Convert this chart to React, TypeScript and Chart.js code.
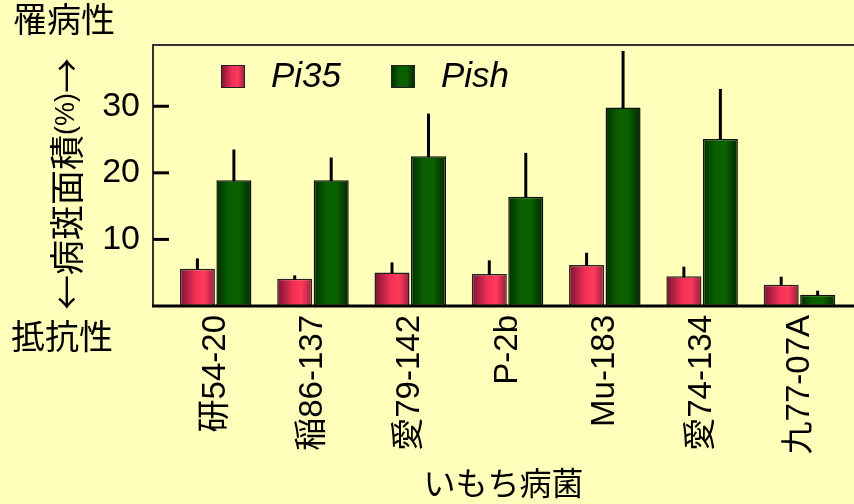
import React, { useEffect, useRef } from 'react';
import { Chart, registerables } from 'chart.js';

Chart.register(...registerables);

// ---- data ----
const categories = ['研54-20', '稲86-137', '愛79-142', 'P-2b', 'Mu-183', '愛74-134', '九77-07A'];
const seriesNames = ['Pi35', 'Pish'];
const pi35 = [5.6, 4.1, 5.05, 4.8, 6.15, 4.45, 3.2];
const pi35Err = [1.55, 0.5, 1.5, 2.05, 1.85, 1.45, 1.2];
const pish = [18.9, 18.9, 22.5, 16.4, 29.8, 25.1, 1.7];
const pishErr = [4.6, 3.4, 6.4, 6.6, 8.5, 7.5, 0.6];
const yTicks = [10, 20, 30];
const xTitle = 'いもち病菌';
const yTitleParts = ['←病斑面積', '(%)', '→'];
const topNote = '罹病性';
const bottomNote = '抵抗性';

// ---- styles ----
const BG = '#FFFFBB';
const FONT = '"Liberation Sans", Arial, "Noto Sans CJK JP", sans-serif';
const CJK = '"Noto Sans CJK JP", sans-serif';
const redStops: [number, string][] = [[0, '#7a1232'], [0.45, '#f03055'], [0.7, '#ff3a5c'], [1, '#9a1c3e']];
const greenStops: [number, string][] = [[0, '#002e00'], [0.35, '#0a5f00'], [0.65, '#0b6000'], [1, '#002800']];
const seriesStops = [redStops, greenStops];
const seriesErr = [pi35Err, pishErr];

function makeGrad(c: CanvasRenderingContext2D, x0: number, x1: number, stops: [number, string][]) {
  const g = c.createLinearGradient(x0, 0, x1, 0);
  stops.forEach(([o, col]) => g.addColorStop(o, col));
  return g;
}

export default function App() {
  const ref = useRef<HTMLCanvasElement>(null);

  useEffect(() => {
    const canvas = ref.current!;

    const bgPlugin = {
      id: 'bg',
      beforeDraw(chart: any) {
        const c = chart.ctx;
        c.save();
        c.fillStyle = BG;
        c.fillRect(0, 0, chart.width, chart.height);
        c.restore();
      },
    };

    const gradPlugin = {
      id: 'grad',
      beforeDatasetsDraw(chart: any) {
        chart.data.datasets.forEach((_ds: any, di: number) => {
          const meta = chart.getDatasetMeta(di);
          meta.data.forEach((el: any) => {
            const { x, width } = el.getProps(['x', 'width'], true);
            el.options = {
              ...el.options,
              backgroundColor: makeGrad(chart.ctx, x - width / 2, x + width / 2, seriesStops[di]),
            };
          });
        });
      },
    };

    const decoPlugin = {
      id: 'deco',
      afterDatasetsDraw(chart: any) {
        const c: CanvasRenderingContext2D = chart.ctx;
        const ys = chart.scales.y;
        const { left, top, bottom } = chart.chartArea;
        c.save();
        // error bars (upper only)
        c.strokeStyle = '#000';
        c.lineWidth = 3;
        chart.data.datasets.forEach((ds: any, di: number) => {
          const meta = chart.getDatasetMeta(di);
          meta.data.forEach((el: any, i: number) => {
            const v = ds.data[i].y;
            const yTop = ys.getPixelForValue(v + seriesErr[di][i]);
            c.beginPath();
            c.moveTo(el.x, el.y + 1);
            c.lineTo(el.x, yTop);
            c.stroke();
          });
        });
        // frame
        c.strokeStyle = '#333';
        c.lineWidth = 2;
        c.beginPath();
        c.moveTo(left, bottom);
        c.lineTo(left, top);
        c.lineTo(chart.width, top);
        c.stroke();
        c.strokeStyle = '#000';
        c.lineWidth = 3;
        c.beginPath();
        c.moveTo(left - 1, bottom);
        c.lineTo(chart.width, bottom);
        c.stroke();
        // inward ticks
        c.lineWidth = 3;
        yTicks.forEach((t) => {
          const y = ys.getPixelForValue(t);
          c.beginPath();
          c.moveTo(left, y);
          c.lineTo(left + 16, y);
          c.stroke();
        });
        c.restore();
      },
      afterDraw(chart: any) {
        const c: CanvasRenderingContext2D = chart.ctx;
        c.save();
        c.fillStyle = '#000';
        c.textBaseline = 'middle';
        c.textAlign = 'left';
        c.font = `34px ${FONT}`;
        c.fillText(topNote, 13, 23);
        c.fillText(bottomNote, 11, 340);

        // y title, rotated
        const fonts = [`35px ${CJK}`, `27px ${FONT}`, `35px ${CJK}`];
        let total = 0;
        const widths = yTitleParts.map((t, i) => {
          c.font = fonts[i];
          const w = c.measureText(t).width;
          total += w;
          return w;
        });
        c.translate(67, 184);
        c.rotate(-Math.PI / 2);
        let x = -total / 2;
        yTitleParts.forEach((t, i) => {
          c.font = fonts[i];
          c.fillText(t, x, 0);
          x += widths[i];
        });
        c.setTransform(1, 0, 0, 1, 0, 0);

        // legend
        const boxX = [221, 391];
        seriesNames.forEach((name, i) => {
          const bx = boxX[i];
          c.fillStyle = makeGrad(c, bx, bx + 24, seriesStops[i]);
          c.fillRect(bx, 65, 24, 23);
          c.strokeStyle = '#222';
          c.lineWidth = 1;
          c.strokeRect(bx + 0.5, 65.5, 23, 22);
          c.fillStyle = '#000';
          c.font = `italic 35px ${FONT}`;
          c.fillText(name, bx + 50, 77);
        });
        c.restore();
      },
    };

    const chart = new Chart(canvas, {
      type: 'bar',
      data: {
        datasets: [
          {
            label: seriesNames[0],
            data: pi35.map((y, i) => ({ x: i, y })),
            backgroundColor: '#ff3a5c',
            borderColor: '#222',
            borderWidth: 1.5,
            borderSkipped: false,
          },
          {
            label: seriesNames[1],
            data: pish.map((y, i) => ({ x: i, y })),
            backgroundColor: '#0b6000',
            borderColor: '#111',
            borderWidth: 1.5,
            borderSkipped: false,
          },
        ],
      },
      options: {
        animation: false,
        responsive: false,
        devicePixelRatio: 1,
        layout: { padding: { top: 45, left: 0, right: 0, bottom: 0 } },
        categoryPercentage: 0.75,
        barPercentage: 0.96,
        plugins: { legend: { display: false }, tooltip: { enabled: false } },
        scales: {
          x: {
            type: 'linear',
            offset: false,
            min: -0.644,
            max: 6.561,
            grid: { display: false, drawTicks: false, offset: false },
            border: { display: false },
            afterBuildTicks: (s: any) => {
              s.ticks = categories.map((_, i) => ({ value: i }));
            },
            afterFit: (s: any) => {
              s.height = 198;
            },
            ticks: {
              autoSkip: false,
              minRotation: 90,
              maxRotation: 90,
              padding: 9,
              color: '#000',
              font: { family: FONT, size: 33 },
              callback: (v: any) => categories[v] ?? '',
            },
            title: {
              display: true,
              text: xTitle,
              color: '#000',
              font: { family: FONT, size: 32, lineHeight: 1 },
              padding: { top: 0, bottom: 2 },
            },
          },
          y: {
            min: 0,
            max: 39.2,
            grid: { display: false, drawTicks: false },
            border: { display: false },
            afterBuildTicks: (s: any) => {
              s.ticks = yTicks.map((v) => ({ value: v }));
            },
            afterFit: (s: any) => {
              s.width = 153;
            },
            ticks: {
              padding: 13,
              color: '#000',
              font: { family: FONT, size: 34 },
            },
          },
        },
      } as any,
      plugins: [bgPlugin, gradPlugin, decoPlugin],
    });

    return () => chart.destroy();
  }, []);

  return (
    <div style={{ position: 'fixed', left: 0, top: 0, width: 854, height: 504, background: BG }}>
      <canvas ref={ref} width={854} height={504} style={{ display: 'block' }} />
    </div>
  );
}
